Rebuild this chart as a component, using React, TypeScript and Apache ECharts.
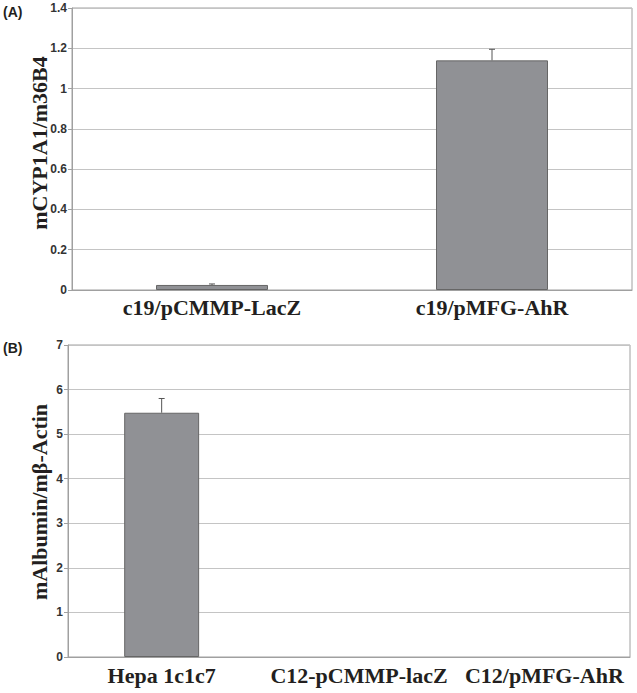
import React, { useEffect, useRef } from "react";
import * as echarts from "echarts";

const catsA = ["c19/pCMMP-LacZ", "c19/pMFG-AhR"];
const valsA = [0.025, 1.14];
const errTopA = [0.03, 1.195];

const catsB = ["Hepa 1c1c7", "C12-pCMMP-lacZ", "C12/pMFG-AhR"];
const valsB = [5.48, 0, 0];
const errTopB: (number | null)[] = [5.8, null, null];

const titleA = "mCYP1A1/m36B4";
const titleB = "mAlbumin/mβ-Actin";

const SERIF = "'Liberation Serif', 'Times New Roman', serif";
const SANS = "'Liberation Sans', Arial, sans-serif";
const INK = "#231f20";
const BAR = "#909195";
const GRID = "#c4c4c4";
const AXIS = "#a0a0a0";

function errorRender(params: any, api: any) {
  const top = api.value(2);
  if (top === null || top === undefined || isNaN(top)) return null;
  const p1 = api.coord([api.value(0), api.value(1)]);
  const p2 = api.coord([api.value(0), top]);
  const st = { stroke: "#555", lineWidth: 1 };
  return {
    type: "group",
    children: [
      { type: "line", shape: { x1: p1[0], y1: p1[1], x2: p2[0], y2: p2[1] }, style: st },
      { type: "line", shape: { x1: p2[0] - 3, y1: p2[1], x2: p2[0] + 3, y2: p2[1] }, style: st },
    ],
  };
}

const labelPadB = [0, 20, 16];

export default function App() {
  const ref = useRef<HTMLDivElement>(null);
  useEffect(() => {
    if (!ref.current) return;
    const chart = echarts.init(ref.current, null, { renderer: "svg" });
    const yAxisCommon = {
      axisLine: { show: true, lineStyle: { color: AXIS, width: 1 } },
      axisTick: { show: true, length: 4, lineStyle: { color: AXIS } },
      splitLine: { show: true, lineStyle: { color: GRID, width: 1 } },
      axisLabel: { fontFamily: SANS, fontWeight: "bold", fontSize: 12, color: "#333", margin: 5 },
    };
    const xAxisCommon = {
      type: "category" as const,
      axisLine: { show: true, lineStyle: { color: AXIS, width: 1 } },
      axisTick: { show: false },
      splitLine: { show: false },
    };
    const barStyle = { color: BAR, borderColor: "#666", borderWidth: 1 };
    chart.setOption({
      animation: false,
      backgroundColor: "#ffffff",
      grid: [
        { left: 72, top: 8, width: 560, height: 282, show: true, borderColor: AXIS, borderWidth: 1 },
        { left: 68, top: 345, width: 562, height: 312, show: true, borderColor: AXIS, borderWidth: 1 },
      ],
      xAxis: [
        {
          ...xAxisCommon,
          gridIndex: 0,
          data: catsA,
          axisLabel: { fontFamily: SERIF, fontWeight: "bold", fontSize: 22, color: INK, margin: 6, interval: 0 },
        },
        {
          ...xAxisCommon,
          gridIndex: 1,
          data: catsB.map((c, i) =>
            labelPadB[i] ? { value: c, textStyle: { padding: [0, 0, 0, labelPadB[i]] } } : c
          ),
          axisLabel: { fontFamily: SERIF, fontWeight: "bold", fontSize: 22, color: INK, margin: 7, interval: 0 },
        },
      ],
      yAxis: [
        { ...yAxisCommon, type: "value", gridIndex: 0, min: 0, max: 1.4, interval: 0.2 },
        { ...yAxisCommon, type: "value", gridIndex: 1, min: 0, max: 7, interval: 1 },
      ],
      series: [
        {
          type: "bar",
          xAxisIndex: 0,
          yAxisIndex: 0,
          data: valsA,
          barWidth: "40%",
          itemStyle: barStyle,
        },
        {
          type: "custom",
          xAxisIndex: 0,
          yAxisIndex: 0,
          renderItem: errorRender,
          data: valsA.map((v, i) => [i, v, errTopA[i]]),
          z: 5,
        },
        {
          type: "bar",
          xAxisIndex: 1,
          yAxisIndex: 1,
          data: valsB.map((v) => (v === 0 ? { value: v, itemStyle: { borderWidth: 0 } } : v)),
          barWidth: "40%",
          itemStyle: barStyle,
        },
        {
          type: "custom",
          xAxisIndex: 1,
          yAxisIndex: 1,
          renderItem: errorRender,
          data: valsB.map((v, i) => [i, v, errTopB[i] === null ? NaN : errTopB[i]]),
          z: 5,
        },
      ],
      graphic: [
        {
          type: "text",
          left: 3,
          top: 5,
          style: { text: "(A)", font: `bold 14px ${SANS}`, fill: INK },
        },
        {
          type: "text",
          left: 3,
          top: 341,
          style: { text: "(B)", font: `bold 14px ${SANS}`, fill: INK },
        },
        {
          type: "text",
          x: 39,
          y: 143,
          rotation: Math.PI / 2,
          style: {
            text: titleA,
            font: `bold 22px ${SERIF}`,
            fill: INK,
            textAlign: "center",
            textVerticalAlign: "middle",
          },
        },
        {
          type: "text",
          x: 39,
          y: 502,
          rotation: Math.PI / 2,
          style: {
            text: titleB,
            font: `bold 22px ${SERIF}`,
            fill: INK,
            textAlign: "center",
            textVerticalAlign: "middle",
          },
        },
      ],
    });
    return () => chart.dispose();
  }, []);
  return (
    <div
      ref={ref}
      style={{ position: "fixed", left: 0, top: 0, width: 637, height: 693, background: "#fff" }}
    />
  );
}
